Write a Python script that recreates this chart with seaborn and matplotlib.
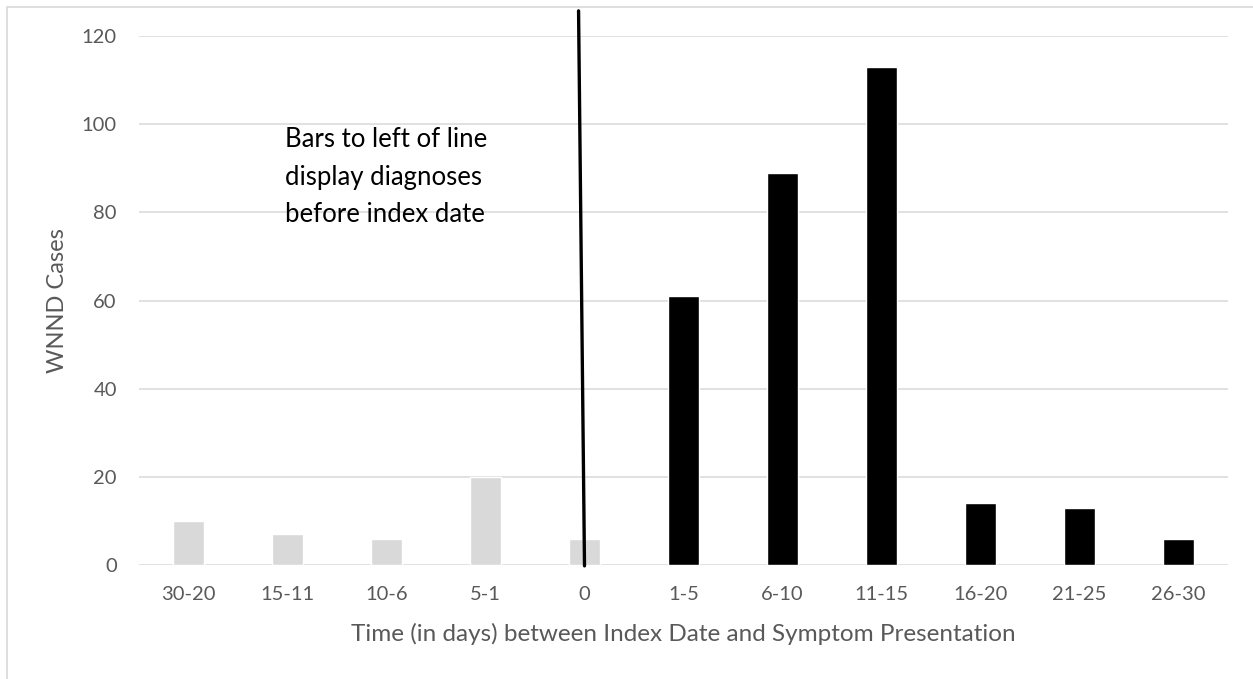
import matplotlib
matplotlib.use("Agg")
import matplotlib.pyplot as plt
import matplotlib.patches as mpatches
import seaborn as sns
import pandas as pd

# ---- data ----
categories = ["30-20", "15-11", "10-6", "5-1", "0", "1-5", "6-10", "11-15", "16-20", "21-25", "26-30"]
cases = [10, 7, 6, 20, 6, 61, 89, 113, 14, 13, 6]
period = ["before"] * 5 + ["after"] * 6
y_ticks = [0, 20, 40, 60, 80, 100, 120]

x_label = "Time (in days) between Index Date and Symptom Presentation"
y_label = "WNND Cases"
note = "Bars to left of line\ndisplay diagnoses\nbefore index date"

df = pd.DataFrame({"cat": categories, "cases": cases, "period": period})

sns.set_theme(style="white")
plt.rcParams["font.family"] = ["Lato", "DejaVu Sans"]

fig = plt.figure(figsize=(12.53, 6.79), dpi=100)
ax = fig.add_axes([139 / 1253, 1 - 565 / 679, (1228 - 139) / 1253, (565 - 36) / 679])

sns.barplot(data=df, x="cat", y="cases", hue="period",
            palette={"before": "#D9D9D9", "after": "#000000"},
            dodge=False, width=0.31, saturation=1, legend=False, ax=ax, zorder=3)

ax.set_ylim(0, 120)
ax.set_xlim(-0.5, len(categories) - 0.5)
ax.set_yticks(y_ticks)
ax.grid(axis="y", color="#D9D9D9", lw=1.1, zorder=0)
ax.grid(axis="x", visible=False)
for s in ax.spines.values():
    s.set_visible(False)
ax.tick_params(axis="both", length=0, labelsize=14.5, labelcolor="#595959")
ax.tick_params(axis="x", pad=15)
ax.tick_params(axis="y", pad=16)

ax.set_xlabel(x_label, fontsize=17.5, color="#595959")
ax.xaxis.set_label_coords(0.5, (565 - 634) / 529)
ax.xaxis.label.set_va("center")
ax.set_ylabel(y_label, fontsize=17, color="#595959")
ax.yaxis.set_label_coords((58 - 139) / 1089, 0.5)
ax.yaxis.label.set_va("center")

# divider line at index date
ax.plot([3.94, 4.0], [125.7, -0.2], color="black", lw=2.4, clip_on=False, zorder=5)

ax.text(0.975, 88.0, note, ha="left", va="center", fontsize=18.5,
        color="black", linespacing=1.62, zorder=6)

# chart border
fig.add_artist(mpatches.Rectangle((7 / 1253, -0.05), 1.1, 1 - 7 / 679 + 0.05,
                                  transform=fig.transFigure, fill=False,
                                  edgecolor="#D9D9D9", lw=1.2))

fig.savefig("out.png", dpi=100)
